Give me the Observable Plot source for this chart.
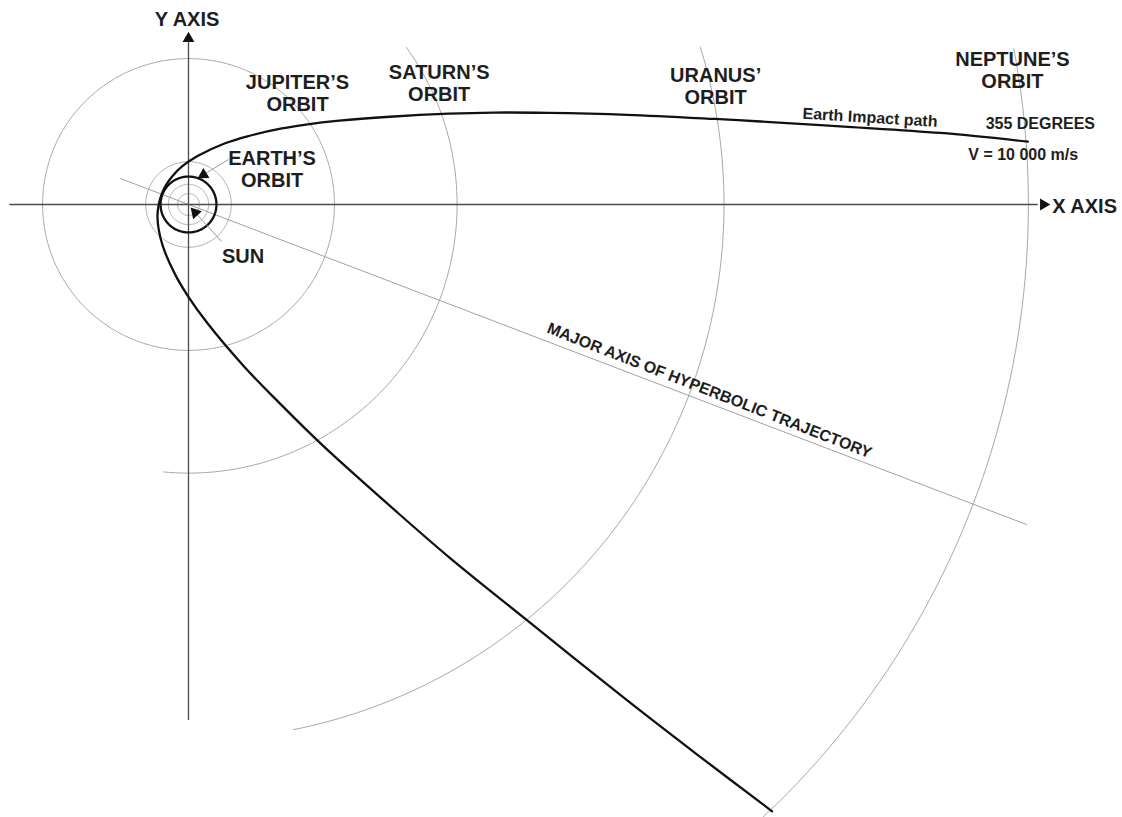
<!DOCTYPE html>
<html>
<head>
<meta charset="utf-8">
<script src="https://cdn.jsdelivr.net/npm/d3@7"></script>
<script src="https://cdn.jsdelivr.net/npm/@observablehq/plot@0.6"></script>
<style>
  body { margin: 0; background: #fff; }
  #chart svg { display: block; overflow: hidden; max-width: none; }
</style>
</head>
<body>
<div id="chart"></div>
<script>
// ---------- data (astronomical units, Sun at origin, +y up) ----------
const orbitNames  = ["Mercury", "Venus", "Earth", "Mars", "Jupiter", "Saturn", "Uranus", "Neptune"];
const orbitRadii  = [0.39, 0.72, 1.0, 1.53, 5.22, 9.61, 19.16, 30.05];
const arcStartDeg = [0, 0, 0, 0, 0, -95.3, -78.7, -47.5];
const arcEndDeg   = [360, 360, 360, 360, 360, 35.8, 17.1, 10.7];

// Earth impact (hyperbolic) path
const trajX = [30.03, 26.90, 23.59, 20.47, 18.84, 15.70, 12.86, 10.91, 9.31, 7.20, 5.39, 4.20, 3.34, 2.11, 1.31, 0.34, -0.22, -0.57, -0.80, -0.96, -1.06, -1.11, -1.07, -0.91, -0.48, -0.05, 0.68, 2.02, 3.30, 4.79, 7.43, 9.37, 12.03, 15.72, 18.20, 20.88];
const trajY = [2.25, 2.56, 2.78, 2.97, 3.06, 3.21, 3.28, 3.29, 3.25, 3.14, 3.00, 2.86, 2.72, 2.44, 2.19, 1.74, 1.37, 1.02, 0.70, 0.37, 0.02, -0.38, -0.87, -1.52, -2.50, -3.23, -4.25, -5.83, -7.15, -8.61, -10.98, -12.66, -14.81, -17.76, -19.68, -21.71];

// major axis of the hyperbola
const majorAxisDeg = -20.9;
const majorAxisSpan = [-2.6, 32.1];

// coordinate axes extents
const xAxisSpan = [-6.39, 30.4];
const yAxisSpan = [-18.46, 5.8];

// labels
const orbitLabels = ["JUPITER’S\nORBIT", "SATURN’S\nORBIT", "URANUS’\nORBIT", "NEPTUNE’S\nORBIT", "EARTH’S\nORBIT", "SUN"];
const orbitLabelX = [3.90, 8.97, 18.86, 29.48, 2.99, 1.95];
const orbitLabelY = [3.36, 3.70, 3.58, 4.18, 0.64, -2.11];

const noteLabels = ["355 DEGREES", "V = 10 000 m/s"];
const noteX = [28.52, 27.90];
const noteY = [2.71, 1.60];

// arrow heads: [x, y, rotation]
const arrowX = [0, 30.59, 0.537, 0.24];
const arrowY = [5.94, 0, 1.063, -0.29];
const arrowRot = [0, 90, 238.5, -42.4];

// pointer leader lines (label -> arrow)
const leaderX1 = [1.43, 1.18];
const leaderY1 = [1.61, -1.32];
const leaderX2 = [0.537, 0.24];
const leaderY2 = [1.063, -0.29];

// ---------- build tables ----------
const orbitPts = orbitNames.flatMap((name, i) => {
  const a0 = arcStartDeg[i], a1 = arcEndDeg[i];
  const n = Math.ceil(Math.abs(a1 - a0));
  return d3.range(n + 1).map(j => {
    const t = (a0 + (a1 - a0) * j / n) * Math.PI / 180;
    return {name, x: orbitRadii[i] * Math.cos(t), y: orbitRadii[i] * Math.sin(t)};
  });
});
const traj = trajX.map((x, i) => ({x, y: trajY[i]}));
const ma = majorAxisDeg * Math.PI / 180;
const majorAxis = majorAxisSpan.map(s => ({x: s * Math.cos(ma), y: s * Math.sin(ma)}));
const orbitLabelData = orbitLabels.map((t, i) => ({t, x: orbitLabelX[i], y: orbitLabelY[i]}));
const noteData = noteLabels.map((t, i) => ({t, x: noteX[i], y: noteY[i]}));
const arrows = arrowX.map((x, i) => ({x, y: arrowY[i], r: arrowRot[i]}));
const leaders = leaderX1.map((x1, i) => ({x1, y1: leaderY1[i], x2: leaderX2[i], y2: leaderY2[i]}));

const pxPerAU = 27.95;
const W = 1122, H = 817, sunPx = [188, 204];

const font = "'Liberation Sans', Arial, Helvetica, sans-serif";
const ink = "#1e1e1e";

const chart = Plot.plot({
  width: W,
  height: H,
  margin: 0,
  x: {domain: [-sunPx[0] / pxPerAU, (W - sunPx[0]) / pxPerAU], axis: null},
  y: {domain: [-(H - sunPx[1]) / pxPerAU, sunPx[1] / pxPerAU], axis: null},
  style: {fontFamily: font, background: "#fff", color: ink},
  marks: [
    // orbits
    Plot.line(orbitPts.filter(d => d.name !== "Earth"), {x: "x", y: "y", z: "name", stroke: "#a8a8a8", strokeWidth: 1}),
    // major axis
    Plot.line(majorAxis, {x: "x", y: "y", stroke: "#a0a0a0", strokeWidth: 1}),
    // coordinate axes
    Plot.ruleY([0], {x1: xAxisSpan[0], x2: xAxisSpan[1], stroke: "#4a4a4a", strokeWidth: 1.3}),
    Plot.ruleX([0], {y1: yAxisSpan[0], y2: yAxisSpan[1], stroke: "#4a4a4a", strokeWidth: 1.3}),
    // Earth's orbit (bold)
    Plot.line(orbitPts.filter(d => d.name === "Earth"), {x: "x", y: "y", stroke: "#111", strokeWidth: 2.3}),
    // leader lines
    Plot.link(leaders, {x1: "x1", y1: "y1", x2: "x2", y2: "y2", stroke: "#9a9a9a", strokeWidth: 1}),
    // trajectory
    Plot.line(traj, {x: "x", y: "y", curve: "catmull-rom", stroke: "#111", strokeWidth: 2.3}),
    // arrow heads
    Plot.dot(arrows, {x: "x", y: "y", rotate: "r", symbol: "triangle", r: 4.4, fill: "#111", stroke: "none"}),
    // axis titles
    Plot.text(["Y AXIS"], {x: -0.05, y: 6.40, text: d => d, lineAnchor: "bottom", textAnchor: "middle", fontSize: 20, fontWeight: "bold", fill: ink}),
    Plot.text(["X AXIS"], {x: 30.90, y: -0.30, text: d => d, lineAnchor: "bottom", textAnchor: "start", fontSize: 20, fontWeight: "bold", fill: ink}),
    // orbit labels
    Plot.text(orbitLabelData, {x: "x", y: "y", text: "t", lineAnchor: "bottom", textAnchor: "middle", lineHeight: 1.1, fontSize: 20, fontWeight: "bold", fill: ink}),
    // notes
    Plot.text(noteData, {x: "x", y: "y", text: "t", lineAnchor: "bottom", textAnchor: "start", fontSize: 16, fontWeight: "bold", fill: ink}),
    Plot.text(["Earth Impact path"], {x: 21.96, y: 3.07, text: d => d, rotate: 3.5, lineAnchor: "bottom", textAnchor: "start", fontSize: 16, fontWeight: "bold", fill: ink}),
    Plot.text(["MAJOR AXIS OF HYPERBOLIC TRAJECTORY"], {x: 18.57, y: -6.83, text: d => d, rotate: 21.3, lineAnchor: "bottom", textAnchor: "middle", fontSize: 16, fontWeight: "bold", fill: ink})
  ]
});
document.getElementById("chart").append(chart);
</script>
</body>
</html>
